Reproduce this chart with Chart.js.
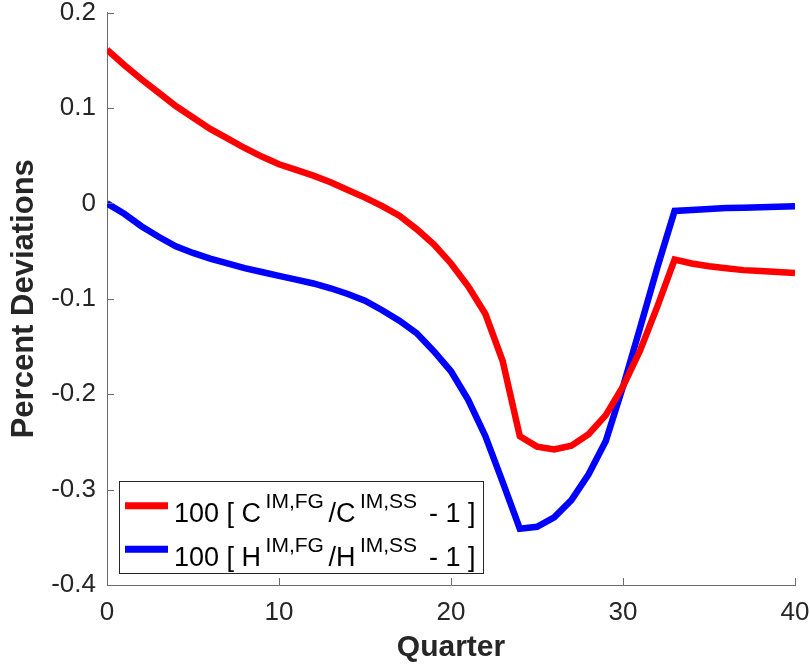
<!DOCTYPE html>
<html>
<head>
<meta charset="utf-8">
<script src="https://cdn.jsdelivr.net/npm/chart.js@4.4.1/dist/chart.umd.min.js"></script>
<style>
  html, body { margin: 0; padding: 0; background: #fff; }
  #myChart { display: block; }
</style>
</head>
<body>
<canvas id="myChart" width="810" height="666"></canvas>
<script>
const quarters = [0, 1, 2, 3, 4, 5, 6, 7, 8, 9, 10, 11, 12, 13, 14, 15, 16, 17, 18, 19, 20,
    21, 22, 23, 24, 25, 26, 27, 28, 29, 30, 31, 32, 33, 34, 35, 36, 37, 38, 39, 40];

// 100 [ C^{IM,FG}/C^{IM,SS} - 1 ]
const consumption = [0.161, 0.145, 0.130, 0.116, 0.102, 0.090, 0.078, 0.068, 0.058, 0.049, 0.041,
    0.035, 0.029, 0.022, 0.014, 0.006, -0.003, -0.013, -0.027, -0.043, -0.063,
    -0.087, -0.116, -0.165, -0.244, -0.255, -0.258, -0.254, -0.242, -0.222, -0.192,
    -0.154, -0.108, -0.059, -0.063, -0.066, -0.068, -0.070, -0.071, -0.072, -0.073];

// 100 [ H^{IM,FG}/H^{IM,SS} - 1 ]
const hours = [0.000, -0.011, -0.024, -0.035, -0.045, -0.052, -0.058, -0.063, -0.068, -0.072, -0.076,
    -0.080, -0.084, -0.089, -0.095, -0.102, -0.112, -0.123, -0.136, -0.155, -0.176,
    -0.206, -0.244, -0.292, -0.341, -0.339, -0.329, -0.311, -0.284, -0.249, -0.192,
    -0.130, -0.067, -0.008, -0.007, -0.006, -0.005, -0.0045, -0.004, -0.0035, -0.003];

const xTicks = [0, 10, 20, 30, 40];
const yTicks = [-0.4, -0.3, -0.2, -0.1, 0, 0.1, 0.2];

// legend text pieces, sup = superscript
const legendItems = [
    { color: '#ff0000', parts: [['100 [ C', false], ['IM,FG', true], ['/C', false], ['IM,SS', true], [' - 1 ]', false]] },
    { color: '#0000ff', parts: [['100 [ H', false], ['IM,FG', true], ['/H', false], ['IM,SS', true], [' - 1 ]', false]] }
];

const FONT = "'Liberation Sans', Arial, Helvetica, sans-serif";
const AXIS_COLOR = '#6b6b6b';
const TEXT_COLOR = '#262626';

const toPoints = (ys) => quarters.map((q, i) => ({ x: q, y: ys[i] }));

// MATLAB-style ticks pointing into the plot
const inwardTicks = {
    id: 'inwardTicks',
    afterDraw(chart) {
        const { ctx, chartArea, scales } = chart;
        ctx.save();
        ctx.strokeStyle = AXIS_COLOR;
        ctx.lineWidth = 1;
        ctx.beginPath();
        scales.x.ticks.forEach((t, i) => {
            const px = Math.round(scales.x.getPixelForTick(i)) + 0.5;
            ctx.moveTo(px, chartArea.bottom);
            ctx.lineTo(px, chartArea.bottom - 7);
        });
        scales.y.ticks.forEach((t, i) => {
            const py = Math.round(scales.y.getPixelForTick(i)) + 0.5;
            ctx.moveTo(chartArea.left, py);
            ctx.lineTo(chartArea.left + 7, py);
        });
        ctx.stroke();
        ctx.restore();
    }
};

// legend with superscripts (built-in legend cannot do that)
const supLegend = {
    id: 'supLegend',
    afterDatasetsDraw(chart) {
        const { ctx, chartArea } = chart;
        const mainFont = '27px ' + FONT;
        const supFont = '21px ' + FONT;
        const supGap = 4.5;
        const boxLeft = chartArea.left + 12;
        const boxBottom = chartArea.bottom - 12;
        const boxH = 92;
        const boxTop = boxBottom - boxH;
        const textX = boxLeft + 55;

        ctx.save();
        let maxW = 0;
        legendItems.forEach(item => {
            let w = 0;
            item.parts.forEach(([t, sup]) => {
                ctx.font = sup ? supFont : mainFont;
                w += ctx.measureText(t).width + (sup ? 2 * supGap : 0);
            });
            maxW = Math.max(maxW, w);
        });
        const boxW = Math.round(textX - boxLeft + maxW + 7);

        ctx.fillStyle = '#ffffff';
        ctx.fillRect(boxLeft, boxTop, boxW, boxH);
        ctx.strokeStyle = '#262626';
        ctx.lineWidth = 1;
        ctx.strokeRect(Math.round(boxLeft) + 0.5, Math.round(boxTop) + 0.5, boxW, boxH);

        legendItems.forEach((item, r) => {
            const lineY = boxTop + 24.7 + r * 43.5;
            const baseY = boxTop + 40.7 + r * 44;
            ctx.strokeStyle = item.color;
            ctx.lineWidth = 7;
            ctx.beginPath();
            ctx.moveTo(boxLeft + 6, lineY);
            ctx.lineTo(boxLeft + 49, lineY);
            ctx.stroke();

            let x = textX;
            ctx.fillStyle = '#000000';
            ctx.textBaseline = 'alphabetic';
            ctx.textAlign = 'left';
            item.parts.forEach(([t, sup]) => {
                ctx.font = sup ? supFont : mainFont;
                if (sup) x += supGap;
                ctx.fillText(t, x, sup ? baseY - 13.5 : baseY);
                x += ctx.measureText(t).width + (sup ? supGap : 0);
            });
        });
        ctx.restore();
    }
};

const data = {
    datasets: [
        {
            label: '100 [ C^{IM,FG}/C^{IM,SS} - 1 ]',
            data: toPoints(consumption),
            borderColor: '#ff0000',
            borderWidth: 6.5,
            pointRadius: 0,
            tension: 0
        },
        {
            label: '100 [ H^{IM,FG}/H^{IM,SS} - 1 ]',
            data: toPoints(hours),
            borderColor: '#0000ff',
            borderWidth: 6.5,
            pointRadius: 0,
            tension: 0
        }
    ]
};

const options = {
    responsive: false,
    animation: false,
    devicePixelRatio: 1,
    layout: { padding: 0 },
    scales: {
        x: {
            type: 'linear',
            min: xTicks[0],
            max: xTicks[xTicks.length - 1],
            afterBuildTicks: (s) => { s.ticks = xTicks.map(v => ({ value: v })); },
            afterFit: (s) => { s.height = 81; s.paddingLeft = 0; s.paddingRight = 15; },
            grid: { drawOnChartArea: false, drawTicks: false },
            border: { display: true, color: AXIS_COLOR, width: 1 },
            ticks: {
                padding: 12,
                color: TEXT_COLOR,
                font: { family: FONT, size: 26 },
                maxRotation: 0
            },
            title: {
                display: true,
                text: 'Quarter',
                color: TEXT_COLOR,
                font: { family: FONT, size: 30, weight: 'bold' },
                padding: { top: 0, bottom: 0 }
            }
        },
        y: {
            min: yTicks[0],
            max: yTicks[yTicks.length - 1],
            afterBuildTicks: (s) => { s.ticks = yTicks.map(v => ({ value: v })); },
            afterFit: (s) => { s.width = 107; s.paddingTop = 12.5; s.paddingBottom = 0; },
            grid: { drawOnChartArea: false, drawTicks: false },
            border: { display: true, color: AXIS_COLOR, width: 1 },
            ticks: {
                padding: 11,
                color: TEXT_COLOR,
                font: { family: FONT, size: 26, lineHeight: 1.0 },
                callback: (v) => String(Number(Number(v).toFixed(1)))
            },
            title: {
                display: true,
                text: 'Percent Deviations',
                color: TEXT_COLOR,
                font: { family: FONT, size: 31, weight: 'bold' },
                padding: { top: 6, bottom: 0 }
            }
        }
    },
    plugins: {
        legend: { display: false },
        tooltip: { enabled: false }
    }
};

const myChart = new Chart(document.getElementById('myChart'), {
    type: 'line',
    data: data,
    options: options,
    plugins: [inwardTicks, supLegend]
});
</script>
</body>
</html>
